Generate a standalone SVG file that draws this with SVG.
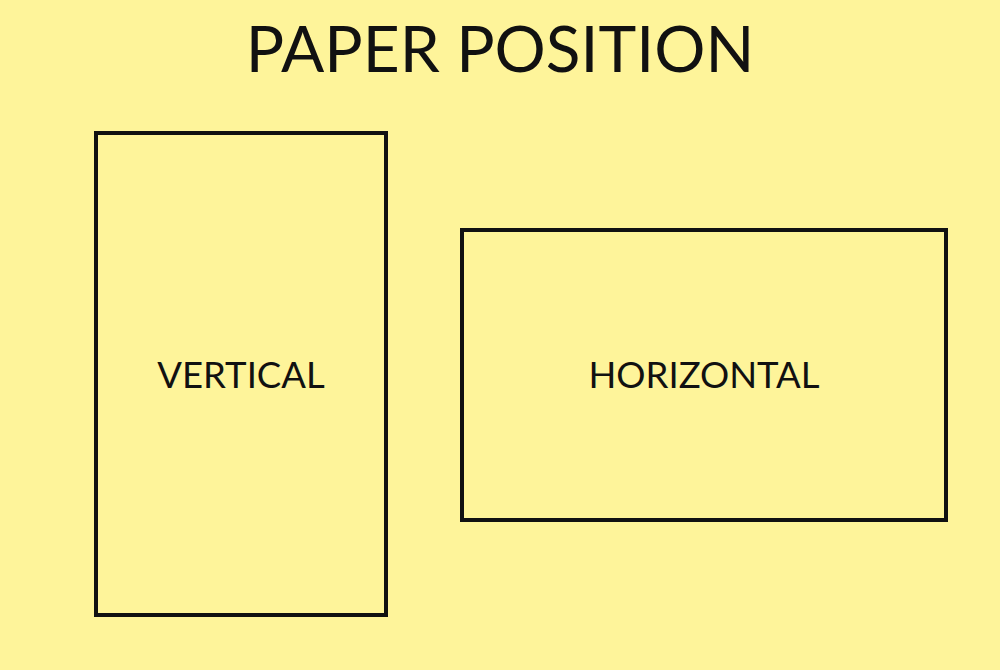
<svg xmlns="http://www.w3.org/2000/svg" width="1000" height="670" viewBox="0 0 1000 670">
<style>
.box{fill:none;stroke:#111;stroke-width:4}
.lbl{font-family:Lato,"Liberation Sans",sans-serif;fill:#111;text-anchor:middle}
</style>
<rect width="1000" height="670" fill="#FEF49A"/>
<text class="lbl" x="500" y="72" font-size="64">PAPER POSITION</text>
<g id="vertical">
<rect class="box" x="96" y="133" width="290" height="482"/>
<text class="lbl" x="241" y="388" font-size="36.5">VERTICAL</text>
</g>
<g id="horizontal">
<rect class="box" x="462" y="230" width="484" height="290"/>
<text class="lbl" x="704" y="388" font-size="36.5">HORIZONTAL</text>
</g>
<g id="connectors"/>
</svg>
